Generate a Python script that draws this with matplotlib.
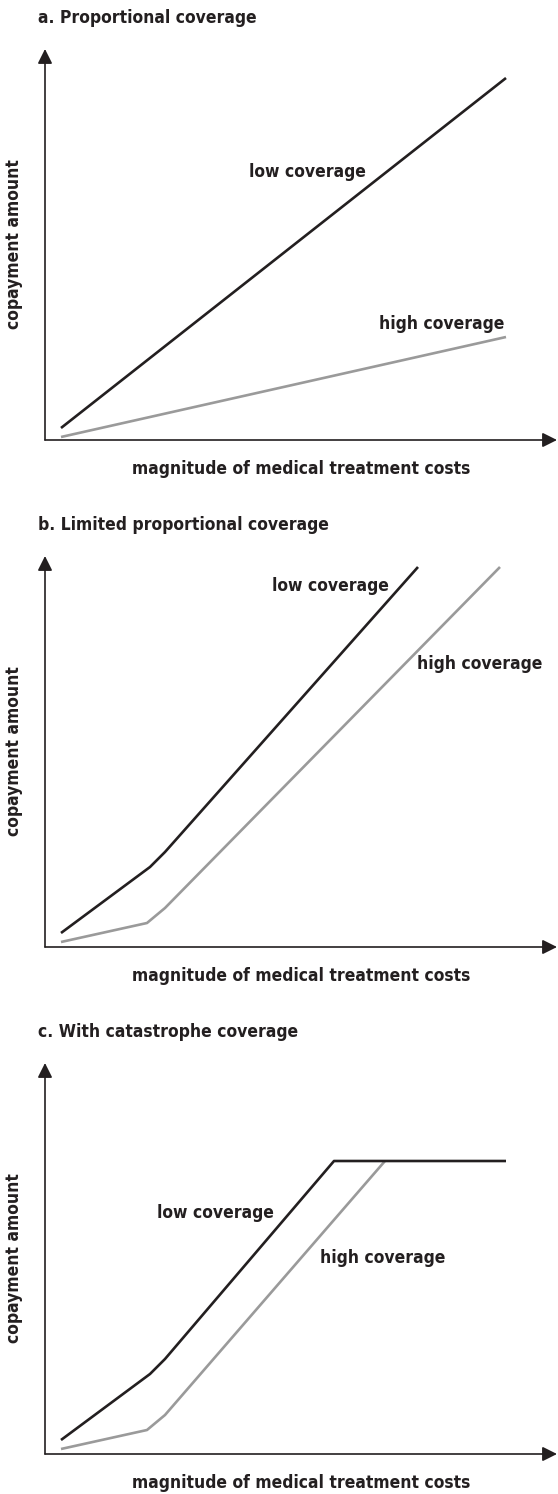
import matplotlib.pyplot as plt

plt.rcParams['font.family'] = ['DejaVu Sans']
plt.rcParams['font.stretch'] = 'condensed'
plt.rcParams['font.weight'] = 'bold'

# panel data (arbitrary units: cost on x, copayment on y)
titles = ['a. Proportional coverage', 'b. Limited proportional coverage', 'c. With catastrophe coverage']
xlabel = 'magnitude of medical treatment costs'
ylabel = 'copayment amount'

a_low_x = [16, 461]
a_low_y = [12, 362]
a_high_x = [16, 461]
a_high_y = [3, 103]

b_low_x = [16, 105, 120, 373]
b_low_y = [14, 80, 95, 380]
b_high_x = [16, 102, 120, 455]
b_high_y = [5, 24, 39, 380]

c_low_x = [16, 105, 120, 289, 461]
c_low_y = [14, 80, 95, 293, 293]
c_high_x = [16, 102, 120, 340]
c_high_y = [5, 24, 39, 293]

low_xs = [a_low_x, b_low_x, c_low_x]
low_ys = [a_low_y, b_low_y, c_low_y]
high_xs = [a_high_x, b_high_x, c_high_x]
high_ys = [a_high_y, b_high_y, c_high_y]

# label positions (x, y, ha) per panel
low_lab = [(321, 268, 'right'), (227, 361, 'left'), (112, 241, 'left')]
high_lab = [(397, 116, 'center'), (372, 283, 'left'), (275, 196, 'left')]

W, H = 558, 1494
fig = plt.figure(figsize=(W / 100, H / 100), dpi=100)

ax_w, ax_h = 512, 391
x_axis_px = [440, 947, 1454]
left_px = 45

BLACK = '#231f20'
GRAY = '#9a9a9a'
fs = 12.5

for i in range(3):
    bottom = (H - x_axis_px[i]) / H
    ax = fig.add_axes([left_px / W, bottom, ax_w / W, ax_h / H])
    ax.set_xlim(0, ax_w)
    ax.set_ylim(0, ax_h)
    ax.axis('off')

    # axes with arrow heads
    arrow = dict(arrowstyle='-|>', color=BLACK, lw=1.2, mutation_scale=22, shrinkA=0, shrinkB=0)
    ax.annotate('', xy=(0, ax_h), xytext=(0, 0), annotation_clip=False, arrowprops=arrow)
    ax.annotate('', xy=(ax_w, 0), xytext=(0, 0), annotation_clip=False, arrowprops=arrow)

    ax.plot(high_xs[i], high_ys[i], color=GRAY, lw=1.9, solid_capstyle='butt', clip_on=False)
    ax.plot(low_xs[i], low_ys[i], color=BLACK, lw=1.9, solid_capstyle='butt', clip_on=False)

    x, y, ha = low_lab[i]
    ax.text(x, y, 'low coverage', ha=ha, va='center', fontsize=fs, color=BLACK)
    x, y, ha = high_lab[i]
    ax.text(x, y, 'high coverage', ha=ha, va='center', fontsize=fs, color=BLACK)

    ax.text(-7, ax_h + 31, titles[i], ha='left', va='center', fontsize=fs, color=BLACK, clip_on=False)
    ax.text(256, -29, xlabel, ha='center', va='center', fontsize=fs, color=BLACK, clip_on=False)
    ax.text(-31, ax_h / 2, ylabel, ha='center', va='center', rotation=90, fontsize=fs,
            color=BLACK, clip_on=False)

fig.savefig('out.png', dpi=100)
